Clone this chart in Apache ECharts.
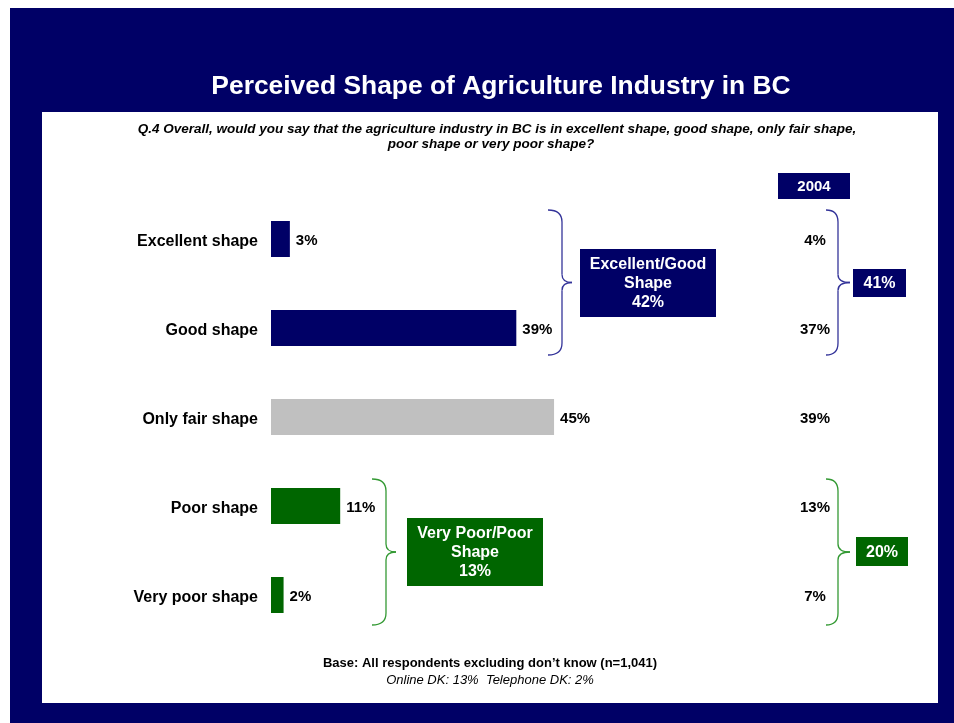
<!DOCTYPE html>
<html>
<head>
<meta charset="utf-8">
<script src="https://cdn.jsdelivr.net/npm/echarts@6/dist/echarts.min.js"></script>
<style>
  html, body { margin: 0; padding: 0; background: #ffffff; }
  #chart { width: 954px; height: 723px; }
</style>
</head>
<body>
<div id="chart"></div>
<script>
// Survey responses (current wave) and the 2004 comparison
const categories = ['Excellent shape', 'Good shape', 'Only fair shape', 'Poor shape', 'Very poor shape'];
const valuesCurrent = [3, 39, 45, 11, 2];
const values2004 = [4, 37, 39, 13, 7];
const barColors = ['#000066', '#000066', '#C0C0C0', '#006600', '#006600'];
const netGood = 42, netPoor = 13;
const netGood2004 = 41, netPoor2004 = 20;

const NAVY = '#000066', GREEN = '#006600';
const FONT = '"Liberation Sans", Arial, sans-serif';

const chart = echarts.init(document.getElementById('chart'), null, { renderer: 'canvas' });

chart.setOption({
  backgroundColor: '#ffffff',
  animation: false,
  grid: { left: 271, right: 54, top: 194.5, bottom: 83.5 },
  xAxis: { type: 'value', min: 0, max: 100, show: false },
  yAxis: {
    type: 'category', data: categories, inverse: true,
    axisLine: { show: false }, axisTick: { show: false }, splitLine: { show: false },
    axisLabel: {
      margin: 13, formatter: '{a|{value}}',
      rich: { a: { color: '#000', fontFamily: FONT, fontWeight: 'bold', fontSize: 16, padding: [6, 0, 0, 0] } }
    }
  },
  series: [{
    type: 'bar', z: 5, barWidth: 36,
    data: valuesCurrent.map((v, i) => ({ value: v, itemStyle: { color: barColors[i] } })),
    label: {
      show: true, position: 'right', distance: 6, offset: [0, 2], formatter: '{c}%',
      color: '#000', fontFamily: FONT, fontWeight: 'bold', fontSize: 15
    }
  }]
});

// Curly brace "}" built from quadratic curves and straight spine segments
function brace(x0, x1, x2, y0, y1, color) {
  const ym = (y0 + y1) / 2, r = 12, m = 8;
  const st = { fill: null, stroke: color, lineWidth: 1.3 };
  const curve = (a, b, c, d, cx, cy) => ({ type: 'bezierCurve', z: 10,
    shape: { x1: a, y1: b, x2: c, y2: d, cpx1: cx, cpy1: cy }, style: st });
  const line = (a, b, c, d) => ({ type: 'line', z: 10,
    shape: { x1: a, y1: b, x2: c, y2: d }, style: st });
  return [
    curve(x0, y0, x1, y0 + r, x1, y0),
    line(x1, y0 + r, x1, ym - m),
    curve(x1, ym - m, x2, ym, x1, ym),
    curve(x2, ym, x1, ym + m, x1, ym),
    line(x1, ym + m, x1, y1 - r),
    curve(x1, y1 - r, x0, y1, x1, y1)
  ];
}
function box(x, y, w, h, color, text, fs) {
  return [
    { type: 'rect', z: 10, shape: { x, y, width: w, height: h }, style: { fill: color } },
    { type: 'text', z: 11, x: x + w / 2, y: y + h / 2 + 1,
      style: { text, fill: '#fff', font: `bold ${fs || 16}px ${FONT}`, align: 'center',
               verticalAlign: 'middle', lineHeight: 19 } }
  ];
}
function txt(x, y, text, font, color) {
  return { type: 'text', z: 11, x, y,
           style: { text, fill: color || '#000', font, align: 'center', verticalAlign: 'middle' } };
}

const rowY = categories.map((c, i) => chart.convertToPixel({ yAxisIndex: 0 }, i));
const topG = rowY[0] - 29, botG = rowY[1] + 27;
const topP = rowY[3] - 27, botP = rowY[4] + 30;

const graphics = [
  { type: 'rect', z: -20, shape: { x: 10, y: 8, width: 944, height: 715 }, style: { fill: NAVY } },
  { type: 'rect', z: -19, shape: { x: 42, y: 112, width: 896, height: 591 }, style: { fill: '#fff' } },
  txt(501, 87, 'Perceived Shape of Agriculture Industry in BC', `bold 26.4px ${FONT}`, '#fff'),
  txt(497, 129, 'Q.4 Overall, would you say that the agriculture industry in BC is in excellent shape, good shape, only fair shape,', `italic bold 13.5px ${FONT}`),
  txt(491, 144, 'poor shape or very poor shape?', `italic bold 13.5px ${FONT}`),
  txt(490, 663, 'Base: All respondents excluding don\u2019t know (n=1,041)', `bold 13px ${FONT}`),
  txt(490, 680, 'Online DK: 13%  Telephone DK: 2%', `italic 13px ${FONT}`),
  ...brace(548, 562, 572, topG, botG, '#333399'),
  ...box(580, 249, 136, 68, NAVY, `Excellent/Good\nShape\n${netGood}%`),
  ...brace(372, 386, 396, topP, botP, '#339933'),
  ...box(407, 518, 136, 68, GREEN, `Very Poor/Poor\nShape\n${netPoor}%`),
  ...box(778, 173, 72, 26, NAVY, '2004', 15),
  ...brace(826, 838, 850, topG, botG, '#333399'),
  ...box(853, 269, 53, 28, NAVY, `${netGood2004}%`),
  ...brace(826, 838, 850, topP, botP, '#339933'),
  ...box(856, 537, 52, 29, GREEN, `${netPoor2004}%`)
];
values2004.forEach((v, i) => graphics.push(txt(815, rowY[i] + 2, `${v}%`, `bold 15px ${FONT}`)));

chart.setOption({ graphic: { elements: graphics } });
</script>
</body>
</html>
